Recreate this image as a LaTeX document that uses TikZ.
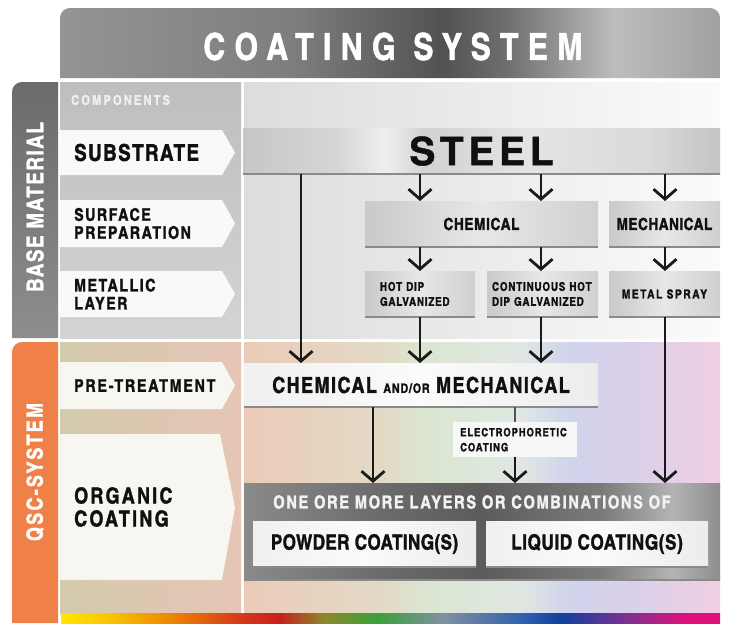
\documentclass[tikz,border=0pt]{standalone}
\usepackage{fontspec}
\usetikzlibrary{arrows.meta}
\newfontfamily\cn{texgyreheroscn-bold.otf}[FakeBold=1.4]
\newfontfamily\hb{texgyreheros-bold.otf}[FakeBold=1]
\definecolor{labc}{HTML}{101010}
\definecolor{arrc}{HTML}{1A1A1A}
\definecolor{hd1}{HTML}{949494}\definecolor{hd2}{HTML}{7E7E7E}\definecolor{hd3}{HTML}{525252}
\definecolor{hd4}{HTML}{707070}\definecolor{hd5}{HTML}{BDBDBD}\definecolor{hd6}{HTML}{A0A0A0}
\definecolor{bb1}{HTML}{6B6B6B}\definecolor{bb2}{HTML}{8D8D8D}
\definecolor{cc1}{HTML}{BEBEBE}\definecolor{cc2}{HTML}{D4D4D4}
\definecolor{mb1}{HTML}{DCDCDC}\definecolor{mb2}{HTML}{FBFBFB}
\definecolor{qorange}{HTML}{EF8047}
\definecolor{qc1}{HTML}{D3CAAC}\definecolor{qc2}{HTML}{E6C5B6}
\definecolor{qm1}{HTML}{EBCBB8}\definecolor{qm2}{HTML}{E3DAC6}\definecolor{qm3}{HTML}{DAE6D2}
\definecolor{qm4}{HTML}{E0E7E2}\definecolor{qm5}{HTML}{D1D3EC}\definecolor{qm6}{HTML}{DBD0EA}\definecolor{qm7}{HTML}{F1CFE3}
\definecolor{rb1}{HTML}{FFE600}\definecolor{rb2}{HTML}{F8C000}\definecolor{rb3}{HTML}{EE8A00}
\definecolor{rb4}{HTML}{D8401A}\definecolor{rb5}{HTML}{C81E1E}\definecolor{rb6}{HTML}{8A8A2A}
\definecolor{rb7}{HTML}{3AA03A}\definecolor{rb8}{HTML}{8090A0}\definecolor{rb9}{HTML}{3060B0}
\definecolor{rb10}{HTML}{1040A0}\definecolor{rb11}{HTML}{803090}\definecolor{rb12}{HTML}{E0107A}
\definecolor{st1}{HTML}{C6C6C6}\definecolor{st2}{HTML}{D6D6D6}\definecolor{st3}{HTML}{EFEFEF}
\definecolor{st4}{HTML}{D2D2D2}\definecolor{st5}{HTML}{E4E4E4}\definecolor{st6}{HTML}{DADADA}\definecolor{st7}{HTML}{C4C4C4}
\definecolor{mx1}{HTML}{C9C9C9}\definecolor{mx2}{HTML}{E7E7E7}\definecolor{mx3}{HTML}{D0D0D0}
\definecolor{og1}{HTML}{8A8A8A}\definecolor{og2}{HTML}{6A6A6A}\definecolor{og3}{HTML}{5C5C5C}
\definecolor{og4}{HTML}{7A7A7A}\definecolor{og5}{HTML}{B4B4B4}\definecolor{og6}{HTML}{8E8E8E}
\definecolor{wb1}{HTML}{F0F0F0}\definecolor{wb2}{HTML}{FBFBFB}\definecolor{wb3}{HTML}{ECECEC}
\definecolor{edgec}{HTML}{8A8A8A}
\definecolor{compb}{HTML}{F9F9F9}\definecolor{compq}{HTML}{F8F6F0}
\pgfdeclarehorizontalshading{hdr}{100bp}{color(0bp)=(hd1); color(25bp)=(hd1); color(42.5bp)=(hd2); color(54bp)=(hd3); color(59bp)=(hd4); color(67bp)=(hd5); color(75bp)=(hd6); color(100bp)=(hd6)}
\pgfdeclarehorizontalshading{qmain}{100bp}{color(0bp)=(qm1); color(25bp)=(qm1); color(39.5bp)=(qm2); color(44.5bp)=(qm3); color(54bp)=(qm4); color(59bp)=(qm5); color(66.5bp)=(qm6); color(75bp)=(qm7); color(100bp)=(qm7)}
\pgfdeclarehorizontalshading{rainbow}{100bp}{color(0bp)=(rb1); color(25bp)=(rb1); color(29bp)=(rb2); color(33bp)=(rb3); color(38bp)=(rb4); color(41.5bp)=(rb5); color(45bp)=(rb6); color(49bp)=(rb7); color(54bp)=(rb8); color(60bp)=(rb9); color(63bp)=(rb10); color(68bp)=(rb11); color(72.5bp)=(rb12); color(75bp)=(rb12); color(100bp)=(rb12)}
\pgfdeclarehorizontalshading{steelsh}{100bp}{color(0bp)=(st1); color(25bp)=(st1); color(35bp)=(st2); color(40bp)=(st3); color(44bp)=(st4); color(55bp)=(st5); color(67.5bp)=(st6); color(75bp)=(st7); color(100bp)=(st7)}
\pgfdeclarehorizontalshading{mbox}{100bp}{color(0bp)=(mx1); color(25bp)=(mx1); color(50bp)=(mx2); color(75bp)=(mx3); color(100bp)=(mx3)}
\pgfdeclarehorizontalshading{orgsh}{100bp}{color(0bp)=(og1); color(25bp)=(og1); color(40bp)=(og2); color(50bp)=(og3); color(62.5bp)=(og4); color(70bp)=(og5); color(75bp)=(og6); color(100bp)=(og6)}
\pgfdeclarehorizontalshading{wbox}{100bp}{color(0bp)=(wb1); color(25bp)=(wb1); color(50bp)=(wb2); color(75bp)=(wb3); color(100bp)=(wb3)}
\begin{document}
\begin{tikzpicture}[x=1pt,y=-1pt,
  f/.style n args={3}{font=\cn\addfontfeature{LetterSpace=#3}\fontsize{#1}{#2}\selectfont},
  lbl/.style={inner sep=0pt, anchor=west, align=left, text=labc},
  sz/.style 2 args={minimum width=#1pt, minimum height=#2pt},
  bx/.style={shade, shading=#1, inner sep=0pt, outer sep=0pt, anchor=north west, text=labc, align=center,
    path picture={\draw[line width=3pt, draw=edgec] (path picture bounding box.south west) -- (path picture bounding box.south east);}},
  arr/.style={draw=arrc, line width=2.8pt, -{Straight Barb[length=10pt,width=23pt]}},
  plain/.style={draw=arrc!75, line width=2.8pt}]
\useasboundingbox (0,0) rectangle (745,632);
\fill[white] (0,0) rectangle (745,632);
% header
\shade[shading=hdr] (60,78) -- (60,18) arc[start angle=180,end angle=270,radius=10] -- (710,8) arc[start angle=270,end angle=360,radius=10] -- (720,78) -- cycle;
\node[text=white, f={37}{40}{25}] (title) at (393,46.5) {COATING SYSTEM};
% base material section
\shade[top color=bb1, bottom color=bb2] (12,338) -- (12,92) arc[start angle=180,end angle=270,radius=10] -- (58,82) -- (58,338) -- cycle;
\node[rotate=90, text=white, f={23}{24}{6.5}] (bm) at (35,207) {BASE MATERIAL};
\shade[top color=cc1, bottom color=cc2] (60,82) rectangle (241,338);
\shade[left color=mb1, right color=mb2] (244,82) rectangle (720,338);
\node[lbl, text=white!94!black, f={13.5}{14}{16}] (comp) at (71,100) {COMPONENTS};
\fill[compb] (60,130) -- (222,130) -- (235,152.5) -- (222,175) -- (60,175) -- cycle;
\fill[compb] (60,200) -- (222,200) -- (235,223.5) -- (222,247) -- (60,247) -- cycle;
\fill[compb] (60,271) -- (222,271) -- (235,294) -- (222,317) -- (60,317) -- cycle;
\node[lbl, f={23}{24}{6}] (sub) at (74,152.5) {SUBSTRATE};
\node[lbl, f={17.4}{18}{8.5}] (surf) at (74,223.5) {SURFACE\\PREPARATION};
\node[lbl, f={17.4}{18}{8.5}] (metl) at (74,294) {METALLIC\\LAYER};
% qsc section
\fill[qorange] (12,623) -- (12,352) arc[start angle=180,end angle=270,radius=10] -- (58,342) -- (58,623) -- cycle;
\node[rotate=90, text=white, f={22}{24}{10}] (qsc) at (35,472) {QSC-SYSTEM};
\shade[left color=qc1, right color=qc2] (60,342) rectangle (241,613);
\shade[shading=qmain] (244,342) rectangle (720,613);
\shade[shading=rainbow] (61,613) rectangle (720,623);
\fill[compq] (60,362) -- (222,362) -- (235,385.5) -- (222,409) -- (60,409) -- cycle;
\fill[compq] (60,434) -- (220,434) -- (235,507) -- (222,580) -- (60,580) -- cycle;
\node[lbl, f={17.4}{18}{10}] (pret) at (74,385.5) {PRE-TREATMENT};
\node[lbl, f={22}{23}{10}] (orgc) at (74,507) {ORGANIC\\COATING};
% flow boxes
\node[bx=steelsh, sz={477}{46}, font=\hb\addfontfeature{LetterSpace=12}\fontsize{39}{40}\selectfont] (steel) at (243,128) {STEEL};
\node[bx=mbox, sz={233}{46}, f={16.7}{18}{3.5}] (chem) at (365,201) {CHEMICAL};
\node[bx=mbox, sz={111}{46}, f={16.7}{18}{2.7}] (mech) at (609,201) {MECHANICAL};
\node[bx=mbox, sz={110}{46}, f={12}{15}{6.5}, align=left, text width=80pt, inner xsep=15pt] (hdg) at (365,271) {HOT DIP\\GALVANIZED};
\node[bx=mbox, sz={111}{46}, f={12}{15}{6.7}, align=left, text width=101pt, inner xsep=5pt] (chdg) at (487,271) {CONTINUOUS HOT\\DIP GALVANIZED};
\node[bx=mbox, sz={111}{46}, f={12.5}{15}{12}] (spray) at (609,271) {METAL SPRAY};
\node[bx=wbox, sz={354}{44}, f={22}{24}{6.5}] (pre) at (244,363) {CHEMICAL {\fontsize{13}{14}\selectfont AND/OR} MECHANICAL};
\node[fill=white!97!black, inner sep=0pt, anchor=north west, sz={124}{35}, align=left, text width=110pt, inner xsep=7pt, text=labc, f={11.5}{15}{8}] (elec) at (453,422) {ELECTROPHORETIC\\COATING};
\node[bx=orgsh, sz={476}{97}] (org) at (244,483) {};
\node[text=white!95!black, f={18}{20}{8.7}] (orgt) at (472,502) {ONE ORE MORE LAYERS OR COMBINATIONS OF};
\node[bx=wbox, sz={223}{46}, f={21}{22}{1.5}] (powder) at (253,521) {POWDER COATING(S)};
\node[bx=wbox, sz={222}{46}, f={21}{22}{2.5}] (liquid) at (486,521) {LIQUID COATING(S)};
% column coordinates
\coordinate (xs) at (301,0);
\coordinate (xa) at (420,0);
\coordinate (xb) at (541,0);
\coordinate (xc) at (665,0);
\coordinate (xd) at (373,0);
\coordinate (xe) at (515,0);
% connectors
\draw[arr] (xs |- steel.south) -- (xs |- pre.north);
\draw[arr] (xa |- steel.south) -- (xa |- chem.north);
\draw[arr] (xb |- steel.south) -- (xb |- chem.north);
\draw[arr] (xc |- steel.south) -- (xc |- mech.north);
\draw[arr] (xa |- chem.south) -- (xa |- hdg.north);
\draw[arr] (xb |- chem.south) -- (xb |- chdg.north);
\draw[arr] (xc |- mech.south) -- (xc |- spray.north);
\draw[arr] (xa |- hdg.south) -- (xa |- pre.north);
\draw[arr] (xb |- chdg.south) -- (xb |- pre.north);
\draw[arr] (xc |- spray.south) -- (xc |- org.north);
\draw[arr] (xd |- pre.south) -- (xd |- org.north);
\draw[plain] (xe |- pre.south) -- (xe |- elec.north);
\draw[arr] (xe |- elec.south) -- (xe |- org.north);
\end{tikzpicture}
\end{document}
